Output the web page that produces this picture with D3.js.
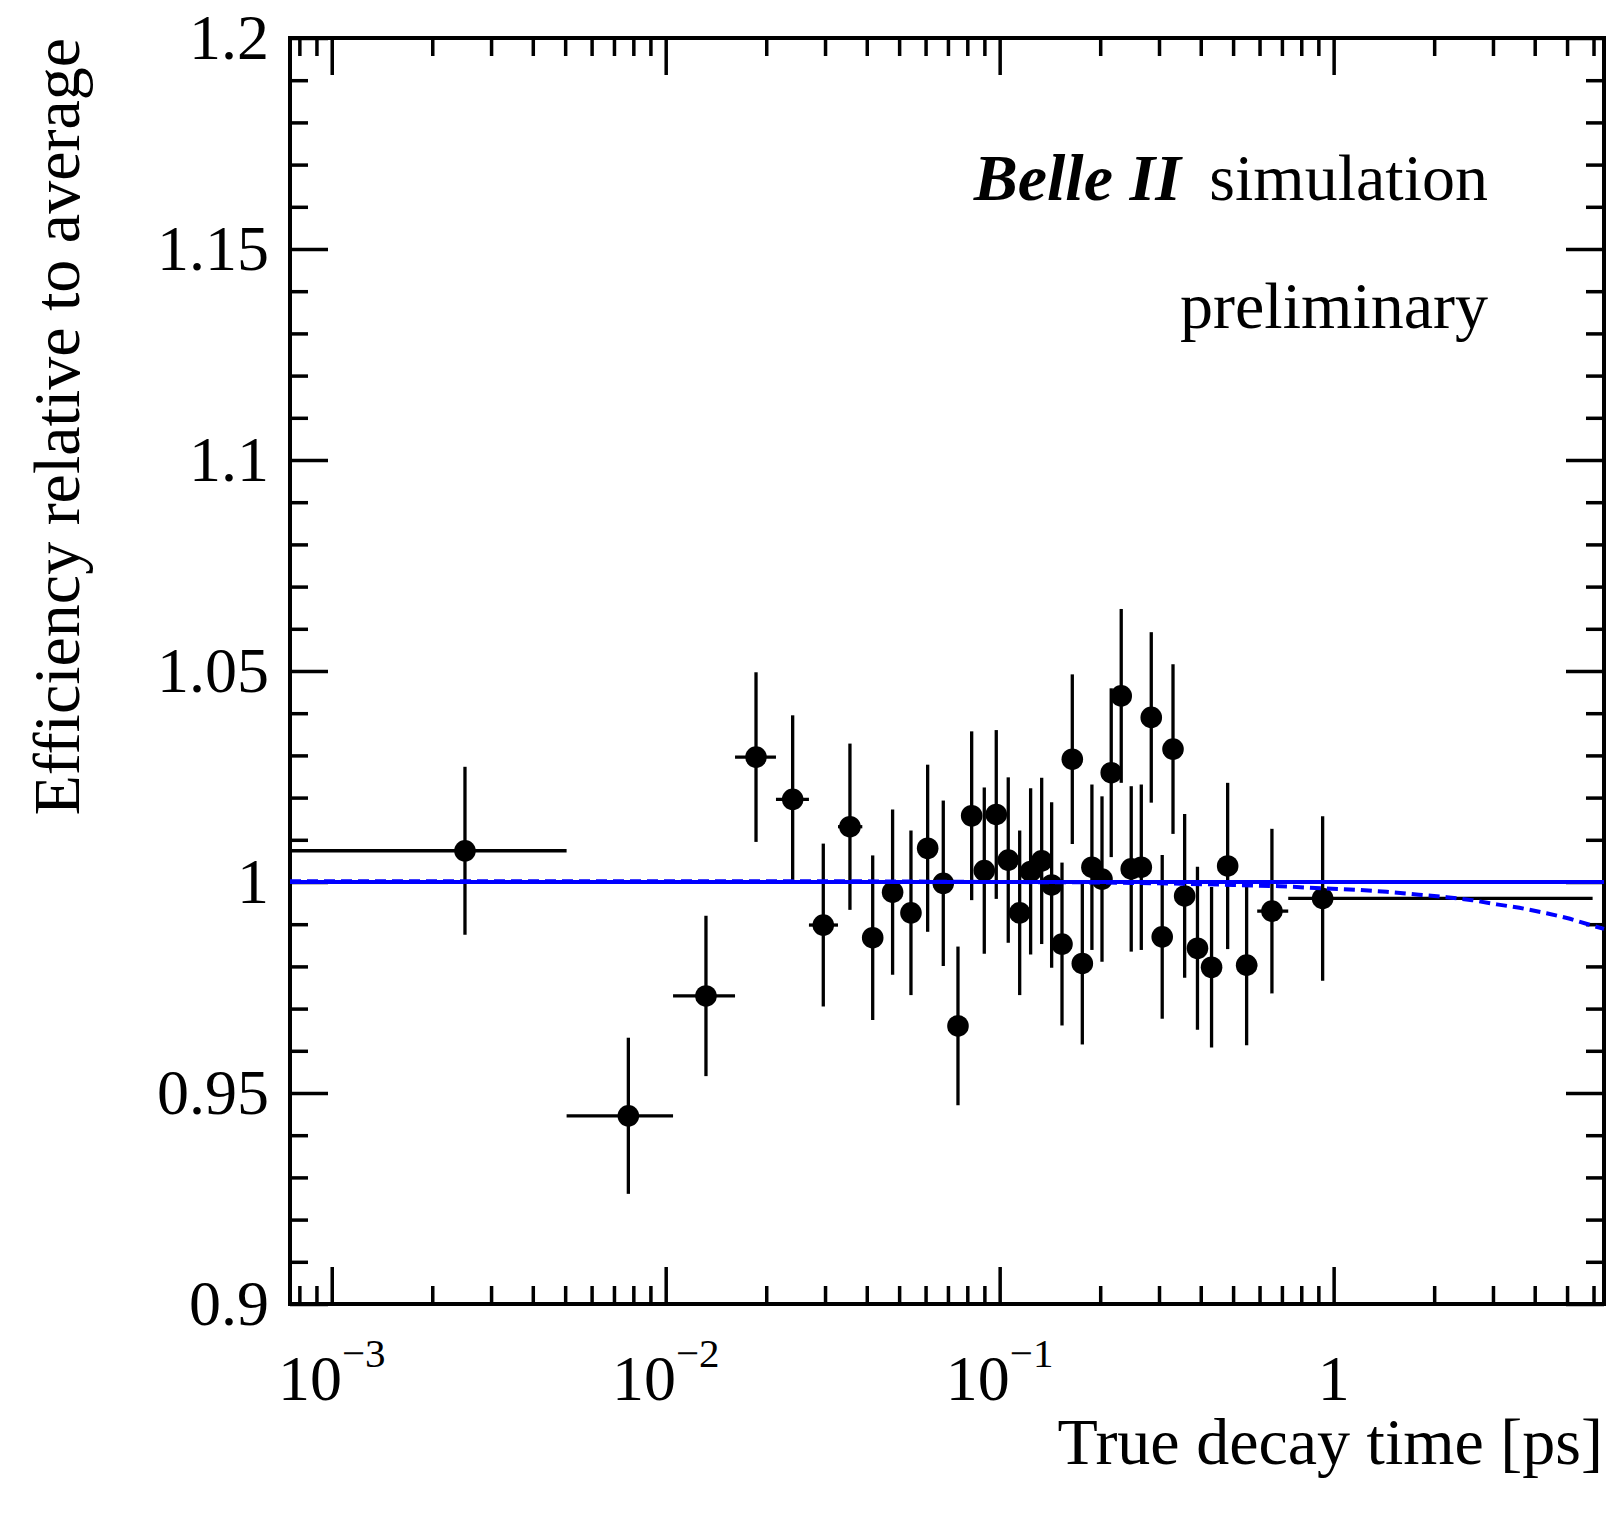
<!DOCTYPE html>
<html>
<head>
<meta charset="utf-8">
<script src="https://cdn.jsdelivr.net/npm/d3@7"></script>
<style>
  body { margin: 0; background: #fff; }
  svg { display: block; }
  text { font-family: "Liberation Serif", "Times New Roman", serif; fill: #000; }
</style>
</head>
<body>
<svg id="chart"></svg>
<script>
// efficiency vs true decay time

const width = 1614
const height = 1513
const plot = {left: 290, right: 1604, top: 38, bottom: 1304}

// bin centres [ps]
const tCenter = [0.002506, 0.00773, 0.01320, 0.01864, 0.02400, 0.02964, 0.03562, 0.04167,
    0.04780, 0.05425, 0.06087, 0.06779, 0.07502, 0.08245, 0.08994, 0.09768, 0.1061, 0.1148,
    0.1238, 0.1336, 0.1431, 0.1537, 0.1650, 0.1768, 0.1889, 0.2025, 0.2158, 0.2312, 0.2477,
    0.2655, 0.2844, 0.3067, 0.3304, 0.3580, 0.3911, 0.4310, 0.4816, 0.5489, 0.6535, 0.9270]

// bin edges [ps] (n+1)
const binEdges = [0, 0.00505, 0.01052, 0.01613, 0.02139, 0.02685, 0.03280, 0.03879, 0.04464,
    0.05099, 0.05754, 0.06424, 0.07135, 0.07873, 0.08610, 0.09374, 0.1018, 0.1104, 0.1192,
    0.1286, 0.1383, 0.1483, 0.1593, 0.1708, 0.1828, 0.1956, 0.2091, 0.2234, 0.2393, 0.2564,
    0.2748, 0.2954, 0.3184, 0.3437, 0.3740, 0.4104, 0.4557, 0.5142, 0.5904, 0.7312, 5.963]

const effValue = [1.0074, 0.9446, 0.9730, 1.0296, 1.0196, 0.9898, 1.0131, 0.9868, 0.9976,
    0.9927, 1.0080, 0.9997, 0.9659, 1.0157, 1.0027, 1.0160, 1.0052, 0.9927, 1.0025, 1.0050,
    0.9993, 0.9853, 1.0291, 0.9807, 1.0035, 1.0007, 1.0259, 1.0441, 1.0031, 1.0035, 1.0390,
    0.9870, 1.0315, 0.9967, 0.9843, 0.9798, 1.0038, 0.9803, 0.9931, 0.9961]

const effError = [0.0199, 0.0185, 0.0190, 0.0201, 0.0199, 0.0193, 0.0197, 0.0195, 0.0196,
    0.0195, 0.0198, 0.0196, 0.0188, 0.0200, 0.0197, 0.0200, 0.0196, 0.0195, 0.0197, 0.0197,
    0.0196, 0.0193, 0.0201, 0.0192, 0.0196, 0.0196, 0.0200, 0.0206, 0.0196, 0.0196, 0.0202,
    0.0194, 0.0201, 0.0194, 0.0193, 0.0190, 0.0197, 0.0190, 0.0195, 0.0195]

// blue dashed curve
const fitT = [0.00075, 0.003, 0.01, 0.03, 0.1, 0.2, 0.35, 0.5, 0.69, 0.93, 1.2, 1.44, 1.8,
    2.18, 2.6, 3.08, 3.6, 4.34, 5.1, 5.99, 6.45]
const fitValue = [1.0002, 1.0002, 1.0002, 1.0002, 1.0000, 0.9999, 0.9996, 0.9993, 0.9990,
    0.9985, 0.9981, 0.9977, 0.9970, 0.9964, 0.9957, 0.9947, 0.9939, 0.9926, 0.9913, 0.9896, 0.9889]

// blue solid line at 1
const refT = [0.00075, 6.45]
const refValue = [1, 1]

const xMajorTicks = [0.001, 0.01, 0.1, 1]
const xTickBase = ['10', '10', '10', '1']
const xTickExp = ['\u22123', '\u22122', '\u22121', '']
const yMajorTicks = [0.9, 0.95, 1, 1.05, 1.1, 1.15, 1.2]
const yTickLabels = ['0.9', '0.95', '1', '1.05', '1.1', '1.15', '1.2']

const labelSize = 64
const titleSize = 66

let svg = d3.select('#chart').attr('width', width).attr('height', height)

let x = d3.scaleLog().domain([0.00075, 6.45]).range([plot.left, plot.right]).clamp(true)
let y = d3.scaleLinear().domain([0.9, 1.2]).range([plot.bottom, plot.top])

// minor ticks: everything the scales give that is not a major one
let xMinor = x.ticks().filter(t => !xMajorTicks.some(m => Math.abs(m - t) / m < 1e-6))
let yMinor = y.ticks(30).filter(t => !yMajorTicks.some(m => Math.abs(m - t) < 1e-6))

function tickAxis(axis, values, size, transform) {
    let g = svg.append('g')
        .attr('transform', transform)
        .call(axis.tickValues(values).tickSize(size).tickFormat(''))
    g.select('.domain').remove()
    g.selectAll('.tick line').attr('stroke', '#000').attr('stroke-width', 3.5)
    return g
}

// ticks point inward on all four sides
tickAxis(d3.axisBottom(x), xMajorTicks, -37, `translate(0,${plot.bottom})`)
tickAxis(d3.axisBottom(x), xMinor, -18, `translate(0,${plot.bottom})`)
tickAxis(d3.axisTop(x), xMajorTicks, -37, `translate(0,${plot.top})`)
tickAxis(d3.axisTop(x), xMinor, -18, `translate(0,${plot.top})`)
tickAxis(d3.axisLeft(y), yMajorTicks, -38, `translate(${plot.left},0)`)
tickAxis(d3.axisLeft(y), yMinor, -18, `translate(${plot.left},0)`)
tickAxis(d3.axisRight(y), yMajorTicks, -38, `translate(${plot.right},0)`)
tickAxis(d3.axisRight(y), yMinor, -18, `translate(${plot.right},0)`)

// frame
svg.append('rect')
    .attr('x', plot.left).attr('y', plot.top)
    .attr('width', plot.right - plot.left).attr('height', plot.bottom - plot.top)
    .attr('fill', 'none').attr('stroke', '#000').attr('stroke-width', 4)

// x tick labels 10^n
let xLab = svg.append('g').selectAll('text')
    .data(xMajorTicks)
    .enter().append('text')
    .attr('x', d => x(d))
    .attr('y', 1400)
    .attr('text-anchor', 'middle')
    .attr('font-size', labelSize)
xLab.append('tspan').text((d, i) => xTickBase[i])
xLab.append('tspan')
    .attr('dy', -33)
    .attr('font-size', 41)
    .text((d, i) => xTickExp[i])

// y tick labels
svg.append('g').selectAll('text')
    .data(yMajorTicks)
    .enter().append('text')
    .attr('x', 269)
    .attr('y', d => y(d) + 21)
    .attr('text-anchor', 'end')
    .attr('font-size', labelSize)
    .text((d, i) => yTickLabels[i])

// axis titles
svg.append('text')
    .attr('x', 1603).attr('y', 1464)
    .attr('text-anchor', 'end')
    .attr('font-size', titleSize)
    .text('True decay time [ps]')

svg.append('text')
    .attr('transform', 'translate(79,38) rotate(-90)')
    .attr('text-anchor', 'end')
    .attr('font-size', titleSize)
    .text('Efficiency relative to average')

// label
let belle = svg.append('text')
    .attr('x', 1488).attr('y', 200)
    .attr('text-anchor', 'end')
    .attr('font-size', titleSize)
belle.append('tspan').attr('font-weight', 'bold').attr('font-style', 'italic').text('Belle II')
belle.append('tspan').attr('dx', 12).text(' simulation')

svg.append('text')
    .attr('x', 1488).attr('y', 328)
    .attr('text-anchor', 'end')
    .attr('font-size', titleSize)
    .text('preliminary')

// data points with errors
let points = tCenter.map((t, i) => ({
    t: t,
    lo: binEdges[i],
    hi: binEdges[i + 1],
    v: effValue[i],
    e: effError[i]
}))

let data = svg.append('g').attr('class', 'points')

data.selectAll('line.xerr')
    .data(points)
    .enter().append('line')
    .attr('class', 'xerr')
    .attr('x1', d => x(d.lo)).attr('x2', d => x(d.hi))
    .attr('y1', d => y(d.v)).attr('y2', d => y(d.v))
    .attr('stroke', '#000').attr('stroke-width', 3.3)

data.selectAll('line.yerr')
    .data(points)
    .enter().append('line')
    .attr('class', 'yerr')
    .attr('x1', d => x(d.t)).attr('x2', d => x(d.t))
    .attr('y1', d => y(d.v - d.e)).attr('y2', d => y(d.v + d.e))
    .attr('stroke', '#000').attr('stroke-width', 3.3)

data.selectAll('circle')
    .data(points)
    .enter().append('circle')
    .attr('cx', d => x(d.t))
    .attr('cy', d => y(d.v))
    .attr('r', 10.8)
    .attr('fill', '#000')

// blue curves
let line = d3.line().x(d => x(d[0])).y(d => y(d[1]))

svg.append('path')
    .datum(refT.map((t, i) => [t, refValue[i]]))
    .attr('d', line)
    .attr('fill', 'none').attr('stroke', '#0000ff').attr('stroke-width', 4)

svg.append('path')
    .datum(fitT.map((t, i) => [t, fitValue[i]]))
    .attr('d', line)
    .attr('fill', 'none').attr('stroke', '#0000ff').attr('stroke-width', 4)
    .attr('stroke-dasharray', '11,6')
</script>
</body>
</html>
